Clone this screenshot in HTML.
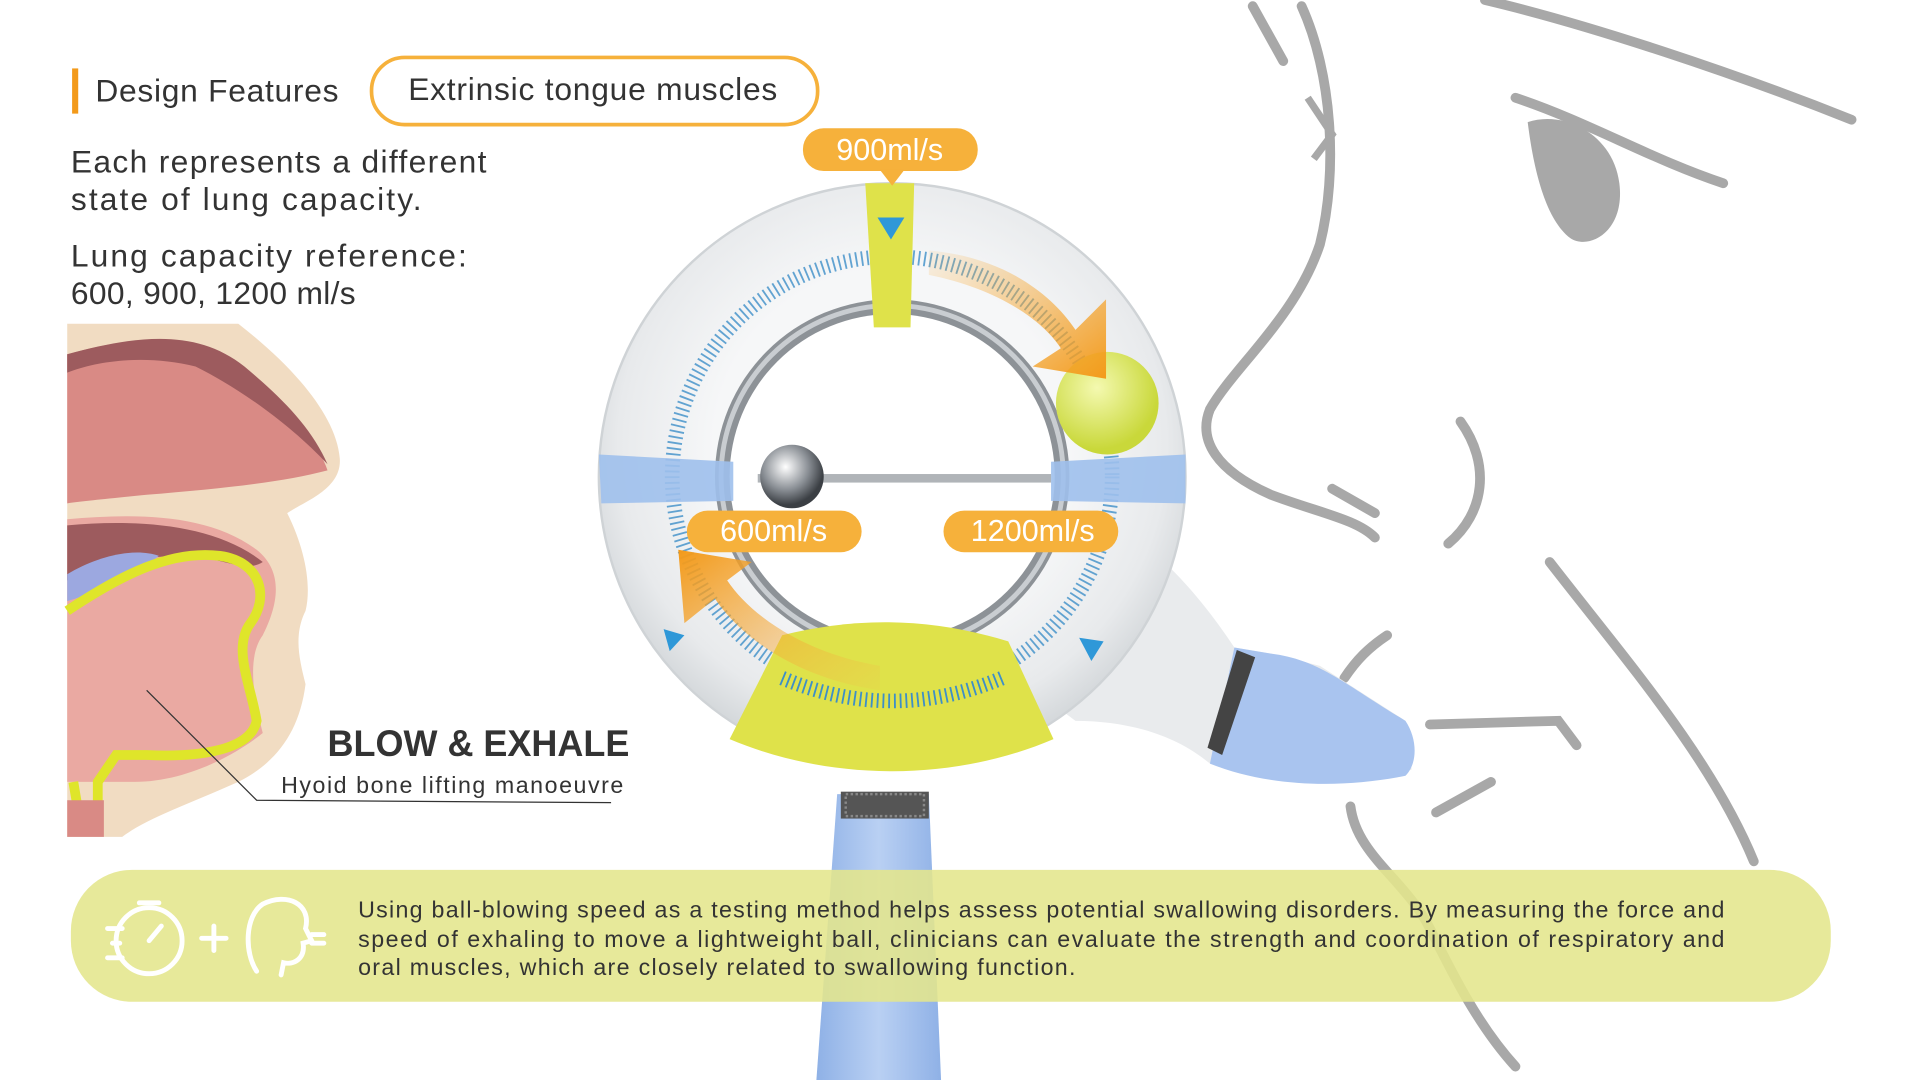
<!DOCTYPE html>
<html><head><meta charset="utf-8"><style>
html,body{margin:0;padding:0;background:#fff;width:1920px;height:1080px;overflow:hidden}
svg{display:block}
text{font-family:"Liberation Sans",sans-serif}
</style></head><body>
<svg width="1920" height="1080" viewBox="0 0 1571 884" preserveAspectRatio="none" xmlns="http://www.w3.org/2000/svg">
<defs>
<radialGradient id="ring" cx="50%" cy="45%" r="55%"><stop offset="0.55" stop-color="#f6f7f8"/><stop offset="0.85" stop-color="#e8eaec"/><stop offset="1" stop-color="#d2d6d9"/></radialGradient>
<radialGradient id="ball" cx="40%" cy="35%" r="60%"><stop offset="0" stop-color="#f4f9b0"/><stop offset="1" stop-color="#c9d83a"/></radialGradient>
<radialGradient id="steel" cx="40%" cy="35%" r="60%"><stop offset="0" stop-color="#fff"/><stop offset="0.6" stop-color="#8a8f95"/><stop offset="1" stop-color="#3b3f44"/></radialGradient>
<linearGradient id="stand" x1="0" x2="1"><stop offset="0" stop-color="#8fb1e6"/><stop offset="0.5" stop-color="#b9d0f3"/><stop offset="1" stop-color="#8fb1e6"/></linearGradient>
<linearGradient id="arr1" x1="0" y1="0" x2="1" y2="1"><stop offset="0" stop-color="#f7b24a" stop-opacity="0.1"/><stop offset="1" stop-color="#f39a1a"/></linearGradient>
<linearGradient id="arr2" x1="1" y1="1" x2="0" y2="0"><stop offset="0" stop-color="#f7b24a" stop-opacity="0.1"/><stop offset="1" stop-color="#f39a1a"/></linearGradient>
</defs>

<g fill="none" stroke="#a8a8a8" stroke-width="8" stroke-linecap="round">
<path d="M1065 5 C1090 60 1095 140 1080 200 C1060 260 1010 300 990 335 C980 360 995 385 1040 405 C1080 420 1110 425 1125 440"/>
<path d="M1025 5 L1050 50"/>
<path d="M1215 0 C1300 20 1420 60 1515 98"/>
<path d="M1240 80 C1300 100 1350 130 1410 150"/>
<path d="M1195 345 C1220 380 1215 420 1185 445"/>
<path d="M1090 400 L1125 420"/>
<path d="M1268 460 C1330 540 1400 620 1435 705"/>
<path d="M1170 593 L1275 590 L1290 610"/>
<path d="M1175 665 L1220 640"/>
<path d="M1105 660 C1110 700 1150 720 1170 760 C1190 800 1210 840 1240 873"/>
<path d="M1100 555 C1110 540 1120 530 1135 520"/>
</g>
<path d="M1250 100 C1280 90 1320 110 1325 150 C1330 190 1300 205 1285 195 C1265 180 1255 140 1250 100 Z" fill="#a8a8a8"/>
<path d="M1070 80 L1090 110 L1075 130" fill="none" stroke="#a8a8a8" stroke-width="6"/>

<path d="M55 265 L195 265 C240 300 275 340 278 375 C280 400 250 410 235 420 C250 450 255 480 250 500 C240 520 245 540 250 560 C245 600 225 625 195 640 C150 660 120 670 100 685 L55 685 Z" fill="#f1dcc2"/>
<path d="M55 290 C110 275 160 270 195 300 C230 330 260 360 268 385 C230 395 180 400 120 405 C90 408 70 410 55 412 Z" fill="#d98a85"/>
<path d="M55 290 C110 275 160 268 200 300 C230 325 255 350 268 380 C240 350 200 320 160 300 C120 290 80 295 55 305 Z" fill="#9d5b5e"/>
<path d="M55 425 C110 420 170 420 210 450 C235 470 225 500 215 520 C200 540 210 580 215 600 C190 620 150 640 110 640 L55 640 Z" fill="#eaa9a2"/>
<path d="M55 430 C110 425 175 428 215 460 C200 470 180 455 150 455 C110 455 80 465 55 475 Z" fill="#9d5b5e"/>
<path d="M55 470 C80 455 110 448 130 455 C110 470 80 485 55 492 Z" fill="#9ca8e0"/>
<path d="M55 500 C100 470 140 450 180 455 C215 460 220 490 205 510 C190 530 205 560 210 590 C205 615 160 620 120 618 L95 618 L80 640 L80 660 L65 670 L60 640" fill="none" stroke="#dfe52a" stroke-width="8"/>
<rect x="55" y="655" width="30" height="30" fill="#d98a85"/>
<path d="M120 565 L210 655 L500 657" fill="none" stroke="#333" stroke-width="1"/>

<path d="M685 650 L760 650 L770 884 L668 884 Z" fill="url(#stand)"/>
<rect x="688" y="648" width="72" height="22" fill="#555"/>
<rect x="692" y="650" width="64" height="18" fill="none" stroke="#888" stroke-width="2" stroke-dasharray="2 2"/>

<path d="M915 430 C960 460 990 500 1010 530 L1040 535 L1080 545 L1150 590 L1155 630 C1120 640 1040 645 990 625 C960 600 920 590 880 590 L860 575 Z" fill="#e9ebed"/>
<path d="M1010 530 L1040 535 C1080 540 1100 560 1150 590 C1160 605 1160 625 1150 635 C1100 645 1040 645 990 625 Z" fill="#a9c4ef"/>
<path d="M1012 532 L1027 538 L1000 618 L988 612 Z" fill="#444"/>

<circle cx="730" cy="390" r="240" fill="url(#ring)" stroke="#cfd3d6" stroke-width="2"/>
<circle cx="730" cy="390" r="145" fill="#8d9297"/>
<circle cx="730" cy="390" r="133" fill="#fff"/>
<circle cx="730" cy="390" r="140" fill="none" stroke="#c9cdd1" stroke-width="4"/>
<circle cx="730" cy="390" r="180" fill="none" stroke="#3d8fc8" stroke-width="12" stroke-dasharray="1.5 3.2" opacity="0.8"/>
<path d="M708 150 L748 150 L745 268 L715 268 Z" fill="#dfe24a"/>
<path d="M490 372 L600 378 L600 410 L492 412 Z" fill="#9fc0ec" opacity="0.9"/>
<path d="M860 378 L970 372 L970 412 L860 410 Z" fill="#9fc0ec" opacity="0.9"/>
<path d="M597 605 L640 520 C700 505 760 505 825 525 L862 605 C780 640 680 640 597 605 Z" fill="#dfe24a"/>
<path d="M640 555 C700 580 760 580 820 555" fill="none" stroke="#3d8fc8" stroke-width="12" stroke-dasharray="1.5 3.2"/>
<rect x="718" y="515" width="24" height="14" fill="#dfe24a"/>
<rect x="620" y="388" width="240" height="7" fill="#b0b4b8"/>
<circle cx="648" cy="390" r="26" fill="url(#steel)"/>
<circle cx="906" cy="330" r="42" fill="url(#ball)"/>
<path d="M760 205 C820 210 860 240 880 270 L905 245 L905 310 L845 300 L868 285 C850 258 810 235 760 225 Z" fill="url(#arr1)"/>
<path d="M720 565 C650 555 605 520 585 490 L560 510 L555 450 L615 460 L595 475 C615 505 660 535 720 545 Z" fill="url(#arr2)"/>
<path d="M718 178 L740 178 L729 196 Z" fill="#2f98d8"/>
<path d="M543 515 L560 520 L548 533 Z" fill="#2f98d8"/>
<path d="M883 522 L903 525 L893 541 Z" fill="#2f98d8"/>

<rect x="657" y="105" width="143" height="35" rx="17" fill="#f6b13b"/>
<path d="M720 139 L740 139 L730 152 Z" fill="#f6b13b"/>
<text x="728" y="131" font-size="25" fill="#fff" text-anchor="middle">900ml/s</text>
<rect x="562" y="418" width="143" height="34" rx="17" fill="#f6b13b"/>
<text x="633" y="443" font-size="25" fill="#fff" text-anchor="middle">600ml/s</text>
<rect x="772" y="418" width="143" height="34" rx="17" fill="#f6b13b"/>
<text x="845" y="443" font-size="25" fill="#fff" text-anchor="middle">1200ml/s</text>

<rect x="59" y="56" width="5" height="37" fill="#f39a1a"/>
<text x="78" y="83" font-size="26" fill="#333" textLength="199" lengthAdjust="spacing">Design Features</text>
<rect x="304" y="47" width="365" height="55" rx="27" fill="#fff" stroke="#f6b13b" stroke-width="3"/>
<text x="334" y="82" font-size="26" fill="#333" textLength="302" lengthAdjust="spacing">Extrinsic tongue muscles</text>
<g font-size="26" fill="#333">
<text x="58" y="141" textLength="340" lengthAdjust="spacing">Each represents a different</text>
<text x="58" y="172" textLength="287" lengthAdjust="spacing">state of lung capacity.</text>
<text x="58" y="218" textLength="324" lengthAdjust="spacing">Lung capacity reference:</text>
<text x="58" y="249" textLength="233" lengthAdjust="spacing">600, 900, 1200 ml/s</text>
</g>

<text x="268" y="619" font-size="30" font-weight="bold" fill="#333" textLength="247" lengthAdjust="spacingAndGlyphs">BLOW &amp; EXHALE</text>
<text x="230" y="649" font-size="19" fill="#333" textLength="280" lengthAdjust="spacing">Hyoid bone lifting manoeuvre</text>

<rect x="58" y="712" width="1440" height="108" rx="50" fill="#e4e68c" opacity="0.88"/>
<g fill="none" stroke="#fff" stroke-width="4" stroke-linecap="round">
<circle cx="122" cy="770" r="27"/><path d="M122 770 L132 758"/><path d="M114 739 L130 739"/><path d="M88 760 L100 760 M92 772 L98 772 M88 784 L100 784"/>
<path d="M165 768 L185 768 M175 758 L175 778"/>
<path d="M210 795 C200 780 200 750 215 740 C235 730 255 740 250 760 L255 770 L248 772 C250 785 240 790 232 788 L230 798"/>
<path d="M255 765 L265 765 M255 772 L265 772"/>
</g>
<g font-size="19" fill="#333">
<text x="293" y="751" textLength="1118" lengthAdjust="spacing">Using ball-blowing speed as a testing method helps assess potential swallowing disorders. By measuring the force and</text>
<text x="293" y="775" textLength="1118" lengthAdjust="spacing">speed of exhaling to move a lightweight ball, clinicians can evaluate the strength and coordination of respiratory and</text>
<text x="293" y="798" textLength="587" lengthAdjust="spacing">oral muscles, which are closely related to swallowing function.</text>
</g>
</svg>
</body></html>
